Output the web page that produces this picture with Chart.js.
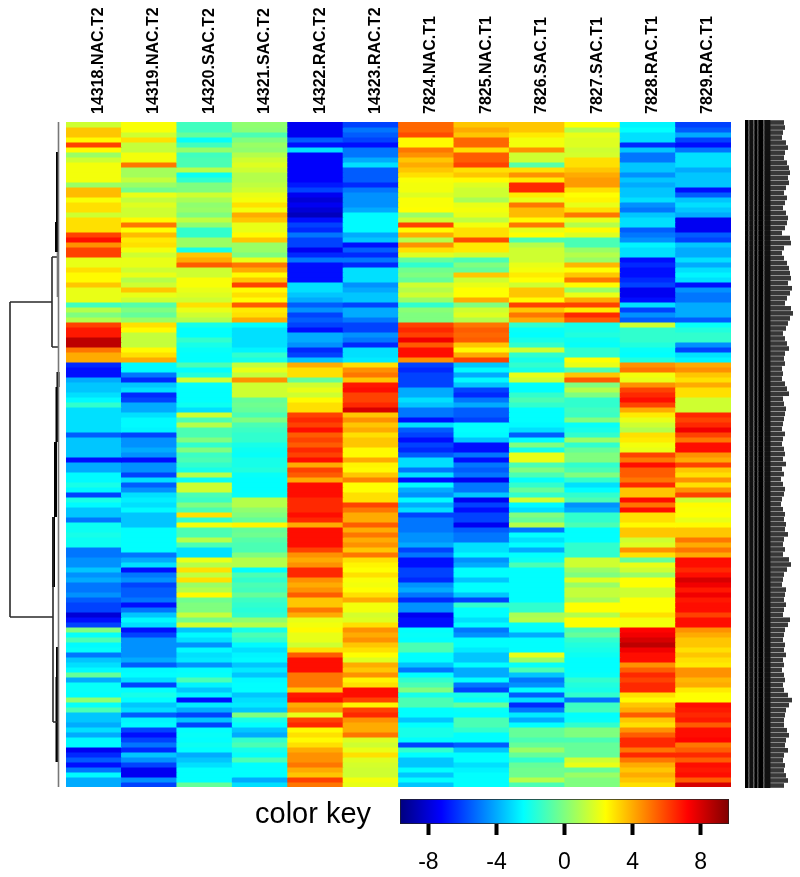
<!DOCTYPE html>
<html><head><meta charset="utf-8">
<style>
html,body{margin:0;padding:0;background:#fff;width:800px;height:877px;overflow:hidden}
.box{position:absolute;filter:blur(0.55px)}
canvas{display:block}
#keyText{position:absolute;left:255px;top:795px;font:29px/36px 'Liberation Sans',Arial,sans-serif;color:#000;white-space:nowrap;filter:blur(0.4px)}
</style>
<script src="https://cdn.jsdelivr.net/npm/chart.js@4"></script>
</head><body>
<div class="box" style="left:0;top:0;width:800px;height:877px"><canvas id="heat"></canvas></div>
<div class="box" style="left:0;top:122px;width:66px;height:665px"><canvas id="dendro"></canvas></div>
<div class="box" style="left:745px;top:120px;width:55px;height:668px"><canvas id="rowlabels"></canvas></div>
<div class="box" style="left:400px;top:790px;width:329px;height:87px"><canvas id="key"></canvas></div>
<div id="keyText"></div>
<script>
const sampleNames=["14318.NAC.T2","14319.NAC.T2","14320.SAC.T2","14321.SAC.T2","14322.RAC.T2","14323.RAC.T2","7824.NAC.T1","7825.NAC.T1","7826.SAC.T1","7827.SAC.T1","7828.RAC.T1","7829.RAC.T1"];

const s14318NAC=[1.5,3.5,3.5,2.5,6,2.5,0.5,1.5,2.2,2.2,
2.2,2.2,0.5,3.7,3.7,2.3,3,3,1.5,3,
3,3,6,7,4.5,6,6,2,2,3,
2.5,2.5,3.5,2,2,2,-1.2,1,0,1,
6,6.8,6.8,8.5,8.5,5,4,4,-6.5,-7,
-7,-4,-3.5,-3.5,-3,-2.5,-1.5,-3,-3,-3,
-3,-3,-5.5,-3.5,-3.5,-3.5,-3.5,-7,-4,-4,
-2.5,-2.5,-2,-2.5,-6,-2,-2.5,-3.5,-3.5,-5,
-2.2,-2.2,-2,-2.2,-2.2,-5,-5,-4.5,-4.5,-3.5,
-4.5,-4,-5,-5,-4.5,-5.5,-6,-6,-8,-7,
-6,0,-2.3,-1,-2.5,-2.3,-5,-3.5,-3,-2.5,
-0.5,-4,-2.3,-2.3,-2.4,0.3,-2.3,-1,-3.5,-3.5,
-4,-3,-4,-2.5,-2.5,-7.5,-6.5,-5.5,-7,-5,
-2.5,-4,-4];
const s14319NAC=[2.3,2.3,1.5,3,1.3,1.3,2.2,2.2,5,0.7,
0.7,1.3,0.5,-0.2,2,1.3,1.8,1.5,1.5,2.5,
5,2.4,3.7,2.8,3,2.2,1.5,2,2,1.5,
2,1,1.5,3.5,2,1.5,-0.8,0,-0.5,0.5,
3,2.5,1.3,1.3,1.3,2.5,3,4,-2.5,-2.5,
-5,-6.5,-3.5,-3,-6.5,-6,-4,-4,-3,-2.5,
-2.5,-2.6,-6,-4.5,-4.5,-4,-4.5,-7,-4.5,-4.5,
-6,-3,-5.5,-4.5,-3,-2.7,-3,-2.5,-3.5,-3.5,
-3.5,-2.4,-2.4,-2.4,-2.4,-2.4,-5,-4,-3,-7,
-5,-4.5,-6,-5.5,-5.5,-5,-7,-5,-3.5,-2.5,
-3,-7,-6,-4.5,-4.5,-4.5,-4.5,-4,-5.5,-2.5,
-2.4,-3,-6,-2.4,-2,-2.4,-3.5,-3,-5.5,-2.6,
-2.5,-6,-7,-6,-5,-6.5,-3.5,-4.5,-6,-7.5,
-7.5,-4.5,-6];
const s14320SAC=[-1.2,-1.2,-0.5,-2.3,-1.2,0.4,-1.2,-1,-1,1,
-2.2,-1.5,0,0,1.5,0.8,0.3,0.5,0,1.2,
0.3,-1.5,-1.5,0.5,0.5,-2,3.5,4,5.5,1.5,
1.5,2.3,2.3,2,1.8,1.5,3,2,1.5,1,
-2,-2.4,-2.4,-1.5,-2,-2.3,-2.4,-2.4,-1,-2.4,
-1.8,1.5,-2.3,-2.4,-2.4,-2.4,-2.2,-3,1.5,-1,
1,-1,-1,0,-1.5,0,-1.3,-1,-1.5,-2,
1,-2.2,1.5,1.5,-1,-1.3,0,-1,3,-1.5,
2.2,-1,-1,1,-1,-3,-3,2,1,3,
1.2,3,0.5,1,2.5,-0.3,0,0,1.3,-0.2,
1.5,-3.5,-2.5,-3,-4.5,-2.5,-3,-2.8,-4.5,-2.4,
-2.3,-1,-2.6,-3.5,-2.6,-7,-2.8,-4,-6,-3.5,
-6,-2.4,-2.3,-2.4,-2.2,-2.4,-4,-3.5,-3,-2.4,
-2.4,-2.4,-0.5];
const s14321SAC=[0.3,0.2,-1,0,0.5,0.3,1,1.5,1.8,1.5,
1,1,1.2,1.5,2,2.2,3,2.2,4,3.5,
2,2,2.5,3.5,0.5,0.5,0,2,5,4,
2.5,3.5,6,2.5,3,2.4,5.5,2.8,3,4,
-2.4,-3,-3,-3,-3,-2.6,-1.5,-2,1.3,2,
1.3,4.5,1.5,1.5,1.5,-0.5,-0.3,-0.5,-1,0,
-1,-1.3,-1.5,-1.5,-2,-2.2,-2.3,-2,-2,-1.8,
-2.3,-2.4,-2.4,-2.4,-2.3,1,1,0.3,0,-0.5,
2.6,-0.5,-0.3,-0.8,-1,-1,0,1,1,-2.4,
-1,-1.5,-1,-1.2,-0.5,-1.3,-1.5,-1.7,-1.5,0.3,
1,-2,-1,-1.5,-2.5,-3,-2.6,-2.5,-3.5,-2.8,
-3.5,-2.5,-2.4,-2.4,-3.5,-3,-2.8,-3.5,0,-2,
-2.4,-3.5,-4,-1.5,-1,-2,-2.3,-1,-2.4,-2.4,
-2.4,-4,-3];
const s14322RAC=[-7.5,-7.5,-7.5,-5.5,-7,-3,-7.3,-7.3,-7.3,-7.3,
-7.3,-7.3,-6.8,-6,-7.5,-8,-7.5,-8,-8.5,-7,
-6,-6.5,-5,-6,-6,-7.5,-6.5,-5,-7,-7,
-7,-7,-3,-3,-3.5,-4,-5.5,-4.5,-6,-5.5,
-6,-7,-4,-4,-4.5,-6.5,-6,-3.5,4,3,
3,-0.5,1.5,2,1.5,2.5,3,3,6,6.5,
6,7,5.5,6,5.5,6.5,6,7,4,6,
5.5,4,7,7,7,6.5,6.5,6.5,7,6.5,
4,7,7,7,7,6,4.5,4,4.5,6.5,
6.5,4.5,4,4.5,5.5,3.5,3.5,5,4,2,
2.2,2.5,2,2,1.5,3,5.5,7,7,7,
5,5,5,3.5,6.8,7,4,4.5,2,6,
6.5,2.5,3,2.5,3,4,4.5,4.5,5,4,
3.5,6,5];
const s14323RAC=[-6,-5,-5.5,-6,-7,-5,-5,-4,-3,-5.5,
-5.5,-5.5,-6.5,-5,-4.5,-4.5,-4.5,-4,-2.5,-2.5,
-2.5,-2.5,-4,-3.5,-7,-5.5,-6.5,-5,-6.5,-3,
-3,-3,-4.5,-4,-3.5,-3.5,-6,-4,-4,-5,
-6,-6,-4.5,-5,-6.5,-3,-3,-2.8,3,4.5,
5,3.5,6.8,7,6,6,6.5,8,3.5,4.5,
3.5,4,3,3.5,3.5,2.5,2.5,4,2.6,2.5,
3.5,4.8,2.4,2.4,3,3,6,5,4,4,
5.5,4,5,4,4.5,3.5,5,3,2.6,2.4,
3,2.3,2.2,2.4,3,4,2.2,2.2,1.6,1.8,
3,4.5,4,4.5,3.5,3,2.4,1.8,4,3.5,
4.5,2.6,3,7,7,6,2.6,6,6.5,4.5,
4,4,5,1.8,1.5,2,3,1.8,1.6,1.5,
1.5,2.2,2];
const s7824NAC=[5.3,5.3,5.8,2.5,2.5,5,4.5,3.5,4,3.5,
3,2.3,2.2,2.2,1.8,2.3,2.3,2.4,0.5,1.5,
6,2.5,4,1,4.5,3,1.8,-0.5,-1.5,-0.3,
0,-0.5,1.5,1,1.5,0.5,-1.5,0.2,0,0,
6,6.5,6,7.5,5.5,7,7,4.5,-6,-6.5,
-6,-6,-6,-4,-4,-3,-3.5,-5,-5,-7,
-3,-5.5,-6,-7,-6,-6.5,-5.5,-3,-3,-5,
-3,-7,-2.5,-4,-4.5,-2.5,-4,-3,-6,-5,
-5,-5,-4.5,-4.5,-4,-6,-5,-7,-7,-6,
-6,-6.5,-4.5,-4,-5,-6.5,-4.5,-4.5,-7.5,-7,
-7,-2.4,-2.3,-2.4,-1,-1,-2.4,-2.4,-3.5,-5,
-2.4,-1.5,-1,0,-2,-1,-1,-2.4,-2.4,-3.5,
-2.4,-2,-2,-2.4,-6,-1.5,-2.4,-3.5,-3.5,-2.4,
-3.5,-2.4,-3.5];
const s7825NAC=[3.5,4,3.5,5.3,5.3,3,5.5,5.5,6,3,
3.5,2.5,1.8,1.5,1.5,0.8,2,2.2,2,1.2,
2.2,3,3,5.8,2.8,2.8,1.5,-1,0,-0.5,
3.5,1.5,2,2.4,2.4,4,0,1.5,1.8,1,
5,5.5,5.3,5.5,3.5,2.5,4,6,-3.5,-2.5,
-4,-2.5,-3.5,-6,-6.5,-5,-4,-5.5,-5.5,-6,
-2.4,-2.4,-2.5,-3.5,-7,-7,-5,-7,-5,-5.5,
-5,-7.5,-5,-5,-3.5,-7.5,-6,-7,-6,-6,
-7.5,-5.5,-5,-5,-3,-3,-2.5,-4.5,-4,-2.4,
-2.4,-3.5,-2.4,-2.4,-3.5,-6,-1.5,-2.4,-2.4,-3,
-2.4,-5,-4.5,-2.4,-2.4,-2.8,-3.5,-3.5,-2.4,-4,
-4,-2.4,-5,-6,-2,-2.3,-0.5,-2.3,-2.4,-1,
-1,-1.5,-2.4,-2.4,-5.5,-3.5,-2.4,-2.4,-3,-2.6,
-2.4,-2.4,-2.4];
const s7826SAC=[3.5,3.5,2.8,2.2,2.2,4.5,1.5,1.5,-0.8,3,
4.5,2.8,6.5,6.5,2.8,2,5,3.7,3.7,2.5,
5,2,2.4,-1,1,1.5,1.5,1.5,2,2.2,
2.8,2.4,1.5,3.5,3.5,2.5,6,3.5,5,4,
-1.5,-2.3,-2.4,-2,-1.5,1.5,-1.5,-2,-1.5,-2,
2,1.5,-2.4,-2.4,-1.5,-1,-1.5,-2.4,-2.4,-2.4,
-2.5,-3,-5.5,-2.4,0,-2,2,2,-1,0,
-1,-2.3,-1.5,-0.5,-1.5,1.5,-2.5,-3,0,-0.5,
1,-5,-2.4,-3,-2.4,-4,-2.4,-2.2,-1,-2.4,
-2.4,-2.4,-2.4,-2.4,-2.4,-2.4,-1.5,-1.5,0.8,1,
-2.3,-2.4,-4,-2.4,-2.4,-2.4,2,0.5,-2.3,-1,
-3.5,-5,-4.5,-2.4,-5.5,-3,-6.5,-5,-2.8,-4,
-2.4,-0.5,-0.5,-1,-0.5,0.5,-0.5,-1.5,-0.5,-0.3,
-0.3,1,-1];
const s7827SAC=[2.4,1,2,1.8,1.8,1.5,1.6,3,3,3.5,
4,4.3,4.3,3,2.4,2.6,2,3,5,2,
1,2.5,1.8,-1,-1,0.5,1,0.5,3.8,2.4,
3.5,5,2.5,0.5,2,4,6,2.8,6.5,5.5,
-2,-2,-1.8,-2.2,-2.3,-1.5,-1.5,2.4,2,-1,
3.5,5.5,0,1,0,-1.5,-1.5,-1.2,-1.3,0,
-2.3,-2,-1.5,0.5,-1.5,-0.5,0,0,-1.5,-1,
0,-1.5,-3,-2.4,-1.5,-1,-4.5,-4,-1.5,-1.5,
-1,-2.4,-2.4,-2.4,-1.5,-1.5,-1.5,1.5,1.5,0.5,
0,1.8,0.5,1.3,1.3,0.8,2.4,2.4,1,2.4,
2.4,-1,-0.5,-1.5,-1.8,-2,-2.2,-2.4,-2.4,-2.4,
-2.3,-1.5,-1.8,-2,-1.5,-5,-1.3,-1.2,-2.4,-2.3,
-1.5,0,0,-1,-0.5,-0.5,-0.5,1.5,2,-0.5,
0.5,0,0];
const s7828RAC=[-2.6,-2.4,-3,-3,-6.5,-3.5,-5,-5,-3.5,-3.5,
-4.5,-3.5,-4,-3.5,-3.5,-3,-4.5,-5,-3.5,-3,
-3,-5.5,-5,-4.5,-2.6,-3,-3,-7,-6.5,-7,
-7,-6.5,-6,-7.5,-7.5,-7,-3,-6,-4.5,-5.5,
1.5,-1.5,-1.5,-1.5,-1.8,-2.3,-2.4,-1.8,4.5,5,
2.2,2,4.5,6,6.5,7,6,4,2.8,2,
1.5,1,3,2.8,2.2,2,6,5,7,5.5,
5.5,5,6.5,3.5,3.5,7,5,7,3,3,
2.5,3.5,3.5,1.5,1.8,4.5,3,-0.5,2,1.5,
0.5,2.4,2.4,1.5,1.5,2.4,2.4,2.4,3,2.2,
2.2,7.2,7.5,8,8.5,7.5,7,7,4.5,5.5,
6.5,6,6.5,6.5,3,2.5,3.5,4,5.5,3.5,
3,4.5,5.5,6.5,6.5,5,6.5,5,4,3.5,
4,3.5,3];
const s7829RAC=[-6,-5.5,-4,-6,-7,-5,-3,-3,-3,-4,
-3.5,-3.5,-3.5,-7,-5.5,-3.5,-3,-3.5,-4,-7.5,
-7.5,-7.5,-5.5,-6,-3.5,-4,-4,-3,-4,-3,
-2.6,-3,-7,-4.5,-5,-5,-4,-4,-4,-5.5,
-2.3,-1.8,-1.5,-1.5,-4.5,-6,-3,-2.6,4,4.5,
3.5,3,4,3,3,1.5,1.5,1.5,6.5,6,
6.5,7.5,6,5,7,7,4.5,4,6,3.5,
3,4.5,3,4.5,6,1.5,2.5,2.3,2.4,2,
2.5,3.5,3.5,5,4,5,4,7,7,6.5,
7,8,7.5,6.8,7.5,6.8,7,7,6,7,
7,4.5,4,3.5,3.5,3,3.5,3,2.8,4.5,
4.5,3.8,4,2.8,2.4,2.4,7,6.8,6.5,6.8,
5.5,7,7,7.2,5,5.5,6.5,5.5,7,6.8,
7,5.5,8];
const seriesValues=[s14318NAC,s14319NAC,s14320SAC,s14321SAC,s14322RAC,s14323RAC,s7824NAC,s7825NAC,s7826SAC,s7827SAC,s7828RAC,s7829RAC];

const keyTicks=[-8,-4,0,4,8];
const keyRange=[-9.67,9.67];
const keyLabel="color key";

// dendrogram merges: [height, fromRow, height, toRow]
const dendroThin=[[56,36,56,99],[56,36,14,36],[56,99,13,99],[14,27,14,45],[14,27,9,27],[14,45,8,45],[13,79,13,120],[13,120,9,120]];
const dendroThick=[[8.5,6,8.5,20],[9.5,20,9.5,26],[8,50,8,53],[9,53,9,64],[10.5,64,10.5,79],[12.5,79,12.5,93],[8.5,105,8.5,111],[9,111,9,128]];
const dendroGrey=[[7.5,0,7.5,133],[8.5,26,8.5,35]];

// ink extent of the unreadable row labels
const labelStrokes=[3,1,4,1,3,1,5,1,6];
const labelTail=[14,15,13,12,16,18,15,14,17,19,20,18,19,16,14,17,15,13,16,18,
17,15,12,20,21,14,12,14,17,19,20,21,18,22,20,17,15,21,23,20,
18,16,13,15,17,19,15,14,15,12,13,12,15,17,19,13,14,16,15,14,
13,12,15,13,12,14,15,13,16,12,14,11,13,15,14,12,11,13,15,14,
16,15,18,14,13,15,13,19,21,17,14,13,12,16,15,14,16,14,13,20,
18,15,14,13,15,14,16,13,14,12,14,15,13,14,18,22,19,16,15,14,
14,17,19,16,15,18,14,13,15,14,16,18,14];
const labelColors=["#000","#8a8a8a","#111","#8a8a8a","#000","#777","#000","#8a8a8a","#111"];

const jetStops=["#00007F","#0000FF","#007FFF","#00FFFF","#7FFF7F","#FFFF00","#FF7F00","#FF0000","#7F0000"];
function hexRgb(h){return [1,3,5].map(i=>parseInt(h.substr(i,2),16));}
function colorOf(v){
  const t=Math.max(0,Math.min(1,(v-keyRange[0])/(keyRange[1]-keyRange[0])))*(jetStops.length-1);
  const i=Math.min(jetStops.length-2,Math.floor(t)),f=t-i;
  const a=hexRgb(jetStops[i]),b=hexRgb(jetStops[i+1]);
  return `rgb(${a.map((c,k)=>Math.round(c+(b[k]-c)*f)).join(",")})`;
}
Chart.defaults.animation=false;
Chart.defaults.responsive=false;
Chart.defaults.font.family="'Liberation Sans',Arial,sans-serif";
Chart.defaults.plugins.legend.display=false;
Chart.defaults.plugins.tooltip.enabled=false;
function size(id,w,h){const c=document.getElementById(id);c.width=w;c.height=h;c.style.width=w+"px";c.style.height=h+"px";return c;}

const rowCount=s14318NAC.length;
const rowDatasets=[];
for(let r=0;r<rowCount;r++){
  rowDatasets.push({
    data:seriesValues.map(()=>1),
    backgroundColor:seriesValues.map(col=>colorOf(col[r])),
    borderWidth:0,
    categoryPercentage:1,barPercentage:1,inflateAmount:0.4
  });
}
new Chart(size("heat",800,877),{
  type:"bar",
  data:{labels:sampleNames,datasets:rowDatasets},
  options:{
    layout:{padding:{left:66,right:69,top:0,bottom:90}},
    scales:{
      x:{stacked:true,position:"top",grid:{display:false},border:{display:false},
        afterFit(s){s.height=122;},
        ticks:{minRotation:90,maxRotation:90,autoSkip:false,padding:0,labelOffset:24,color:"#000",font:{size:16,weight:"bold"}}},
      y:{stacked:true,reverse:true,min:0,max:rowCount,display:false}
    }
  }
});

function segs(list){
  const out=[];
  list.forEach(s=>{out.push({x:s[0],y:s[1]},{x:s[2],y:s[3]},{x:null,y:null});});
  return out;
}
function lineSet(list,color,w){return {data:segs(list),borderColor:color,borderWidth:w,showLine:true,pointRadius:0,spanGaps:false,clip:false};}
new Chart(size("dendro",66,665),{
  type:"scatter",
  data:{datasets:[lineSet(dendroGrey,"#777",1.6),lineSet(dendroThin,"#2a2a2a",1.6),lineSet(dendroThick,"#000",3)]},
  options:{layout:{padding:0},scales:{
    x:{type:"linear",reverse:true,min:0,max:66,display:false},
    y:{type:"linear",reverse:true,min:0,max:rowCount,display:false}}}
});

const rowIdx=labelTail.map((_,i)=>i);
const labelSets=labelStrokes.map((w,i)=>({data:rowIdx.map(()=>w),backgroundColor:labelColors[i],borderWidth:0,categoryPercentage:1,barPercentage:1}));
labelSets.push({data:labelTail,backgroundColor:"#383838",borderWidth:0,categoryPercentage:1,barPercentage:0.92});
new Chart(size("rowlabels",55,668),{
  type:"bar",
  data:{labels:rowIdx,datasets:labelSets},
  options:{indexAxis:"y",layout:{padding:0},scales:{
    x:{stacked:true,min:0,max:55,display:false},
    y:{stacked:true,display:false}}}
});

document.getElementById("keyText").textContent=keyLabel;
new Chart(size("key",329,87),{
  type:"bar",
  data:{labels:[keyLabel],datasets:[{
    data:[keyRange],
    borderColor:"#222",borderWidth:1,borderSkipped:false,
    categoryPercentage:1,barPercentage:1,
    backgroundColor(ctx){
      const a=ctx.chart.chartArea;
      if(!a) return "#000";
      const g=ctx.chart.ctx.createLinearGradient(a.left,0,a.right,0);
      jetStops.forEach((c,i)=>g.addColorStop(i/(jetStops.length-1),c));
      return g;
    }
  }]},
  options:{indexAxis:"y",layout:{padding:{left:0,right:0,top:9,bottom:0}},scales:{
    x:{type:"linear",min:keyRange[0],max:keyRange[1],
      afterBuildTicks(s){s.ticks=keyTicks.map(v=>({value:v}));},
      afterFit(s){s.height=53;},
      border:{display:false},
      grid:{drawOnChartArea:false,drawTicks:true,tickLength:11,tickWidth:4,tickColor:"#000"},
      ticks:{color:"#000",padding:14,font:{size:23}}},
    y:{display:false}
  }}
});
</script>
</body></html>
